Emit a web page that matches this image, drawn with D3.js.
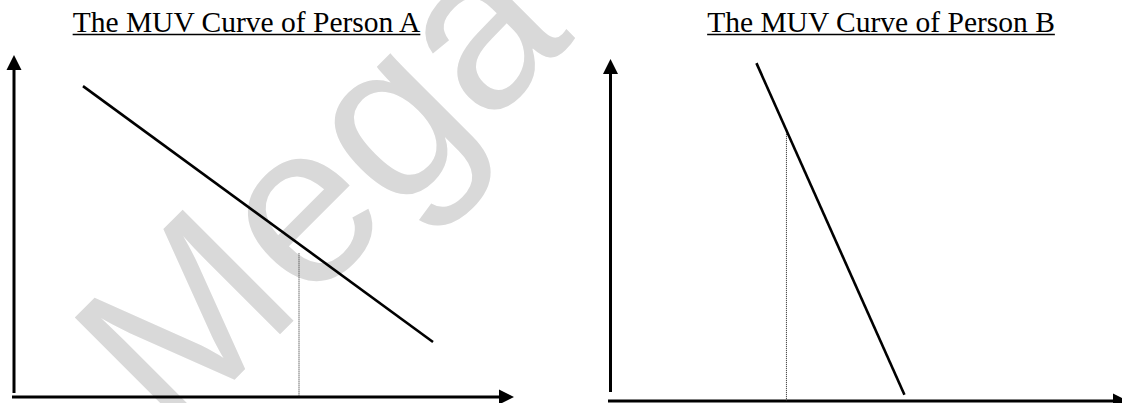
<!DOCTYPE html>
<html>
<head>
<meta charset="utf-8">
<script src="https://cdn.jsdelivr.net/npm/d3@7"></script>
<style>
  html, body { margin: 0; padding: 0; background: #fff; }
  svg { display: block; }
</style>
</head>
<body>
<svg id="chart" width="1122" height="403"></svg>
<script>
// ---- data (abstract units 0..100 on each panel's axes) ----
const titles = ["The MUV Curve of Person A", "The MUV Curve of Person B"];
const curveAx = [13.8, 83.8];
const curveAy = [90.9, 16.1];
const curveBx = [28.2, 56.8];
const curveBy = [98.8, 1.8];
const dropX = [57, 34];      // dotted vertical line position per panel
const dropTop = [42, 78.7];  // dotted line top value per panel
const watermarkText = "Mega";

// ---- layout ----
const svg = d3.select("#chart");

const panels = [
  { title: titles[0], cx: curveAx, cy: curveAy, drop: dropX[0], dropTop: dropTop[0],
    x: d3.scaleLinear().domain([0, 100]).range([14, 514]),
    y: d3.scaleLinear().domain([0, 100]).range([397, 55]),
    titleX: 246.5, yAxisBottom: 393, xAxisStart: 12 },
  { title: titles[1], cx: curveBx, cy: curveBy, drop: dropX[1], dropTop: dropTop[1],
    x: d3.scaleLinear().domain([0, 100]).range([610.5, 1128]),
    y: d3.scaleLinear().domain([0, 100]).range([401, 59]),
    titleX: 881, yAxisBottom: 392, xAxisStart: 608 }
];

// watermark (behind everything)
const wmSize = 228;
svg.append("text")
  .attr("transform", "translate(316,182) rotate(-45)")
  .attr("text-anchor", "middle")
  .attr("dy", "0.36em")
  .style("font-family", "'Liberation Sans', Arial, sans-serif")
  .style("font-size", wmSize + "px")
  .style("fill", "#d9d9d9")
  .text(watermarkText);

const headLen = 15, headHalf = 7.5;

panels.forEach(p => {
  const g = svg.append("g");
  const [x0, x1] = p.x.range();
  const [y0, y1] = p.y.range();

  // title with underline
  const t = g.append("text")
    .attr("x", p.titleX)
    .attr("y", 32)
    .attr("text-anchor", "middle")
    .style("font-family", "'Liberation Serif', 'Times New Roman', serif")
    .style("font-size", "29.5px")
    .style("fill", "#000")
    .text(p.title);
  const tw = t.node().getComputedTextLength();
  g.append("line")
    .attr("x1", p.titleX - tw / 2).attr("x2", p.titleX + tw / 2)
    .attr("y1", 34.5).attr("y2", 34.5)
    .attr("stroke", "#000").attr("stroke-width", 1.5);

  // y axis with arrow
  g.append("line")
    .attr("x1", x0).attr("x2", x0)
    .attr("y1", p.yAxisBottom).attr("y2", y1 + headLen)
    .attr("stroke", "#000").attr("stroke-width", 3);
  g.append("path")
    .attr("d", `M${x0},${y1} L${x0 - headHalf},${y1 + headLen} L${x0 + headHalf},${y1 + headLen} Z`)
    .attr("fill", "#000");

  // x axis with arrow
  g.append("line")
    .attr("x1", p.xAxisStart).attr("x2", x1 - headLen)
    .attr("y1", y0).attr("y2", y0)
    .attr("stroke", "#000").attr("stroke-width", 3);
  g.append("path")
    .attr("d", `M${x1},${y0} L${x1 - headLen},${y0 - headHalf} L${x1 - headLen},${y0 + headHalf} Z`)
    .attr("fill", "#000");

  // dotted drop line
  g.append("line")
    .attr("x1", p.x(p.drop)).attr("x2", p.x(p.drop))
    .attr("y1", p.y(p.dropTop)).attr("y2", y0)
    .attr("stroke", "#222").attr("stroke-width", 1)
    .attr("stroke-dasharray", "1,1");

  // MUV curve
  const pts = p.cx.map((v, i) => [v, p.cy[i]]);
  g.append("path")
    .datum(pts)
    .attr("d", d3.line().x(d => p.x(d[0])).y(d => p.y(d[1])))
    .attr("fill", "none")
    .attr("stroke", "#000")
    .attr("stroke-width", 2.6);
});
</script>
</body>
</html>
